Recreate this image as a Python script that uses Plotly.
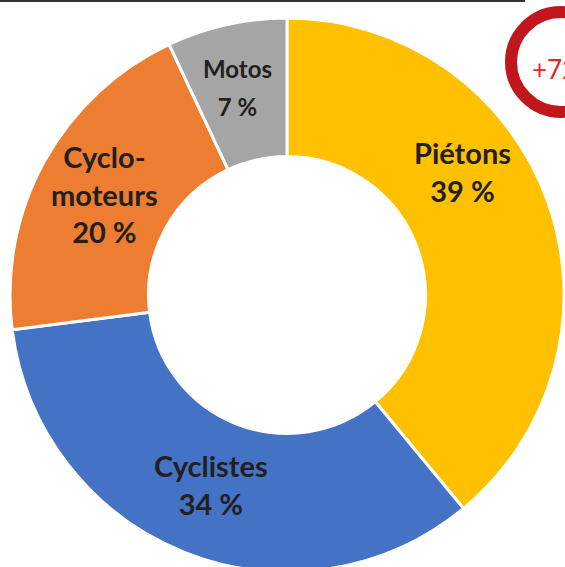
import plotly.graph_objects as go

# ---- data ----
categories = ["Piétons", "Cyclistes", "Cyclo-<br>moteurs", "Motos"]
shares = [39, 34, 20, 7]
colors = ["#FFC000", "#4472C4", "#ED7D31", "#A5A5A5"]
badge_text = "+72 %"

# ---- layout constants (pixels in a 600x600 canvas, window crops to 565x567) ----
W, H = 600, 600
CX, CY, R = 287, 295, 277
label_centers = [(462, 172), (211, 484), (104, 194), (237, 87)]
label_sizes = [29, 29, 29, 24]

def px(x):
    return x / W

def py(y):
    return 1 - y / H

fig = go.Figure()
fig.add_trace(go.Pie(
    labels=categories,
    values=shares,
    sort=False,
    direction="clockwise",
    rotation=0,
    hole=0.5,
    marker=dict(colors=colors, line=dict(color="white", width=3)),
    textinfo="none",
    hoverinfo="skip",
    showlegend=False,
    domain=dict(x=[px(CX - R), px(CX + R)], y=[py(CY + R), py(CY - R)]),
))

annotations = []
for cat, val, (lx, ly), fs in zip(categories, shares, label_centers, label_sizes):
    txt = f"<span style='font-size:{fs}px'><b>{cat}</b><br><b>{val} %</b></span>"
    annotations.append(dict(
        x=px(lx), y=py(ly), xref="paper", yref="paper",
        text=txt, showarrow=False, xanchor="center", yanchor="middle",
        align="center", font=dict(family="Lato", size=29, color="#231F20"),
    ))

annotations.append(dict(
    x=px(530), y=py(69), xref="paper", yref="paper", text=badge_text,
    showarrow=False, xanchor="left", yanchor="middle",
    font=dict(family="Lato", size=26, color="#E3262B"),
))

shapes = [
    dict(type="circle", xref="paper", yref="paper",
         x0=px(561 - 50), x1=px(561 + 50), y0=py(62 + 50), y1=py(62 - 50),
         line=dict(color="#C0161E", width=12)),
    dict(type="line", xref="paper", yref="paper",
         x0=0, x1=px(525), y0=py(1), y1=py(1),
         line=dict(color="#333333", width=2)),
]

fig.update_layout(
    width=W, height=H,
    margin=dict(l=0, r=0, t=0, b=0),
    paper_bgcolor="white", plot_bgcolor="white",
    annotations=annotations, shapes=shapes,
)

fig.write_html(
    "out.html",
    config={"displayModeBar": False},
    post_script="document.body.style.margin='0';document.body.style.overflow='hidden';document.documentElement.style.overflow='hidden';",
)
